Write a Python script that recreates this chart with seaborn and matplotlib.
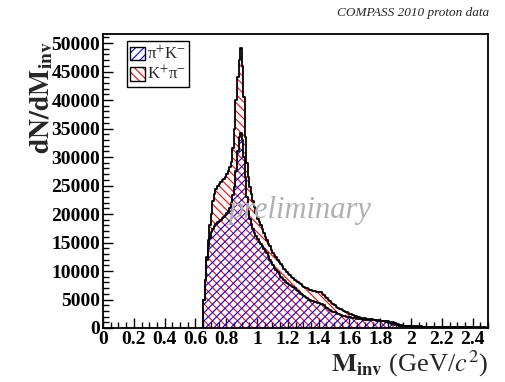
import numpy as np
import pandas as pd
import seaborn as sns
import matplotlib
matplotlib.use("Agg")
import matplotlib.pyplot as plt
from matplotlib.patches import Patch
from matplotlib.legend_handler import HandlerTuple
from matplotlib.ticker import MultipleLocator, FixedLocator, FixedFormatter

# Invariant-mass spectra, 0.01 GeV/c^2 bins starting at 0.64 GeV/c^2
BIN_START = 0.64
BIN_WIDTH = 0.01

# K+ pi- hypothesis (counts per bin)
kpi_counts = [
    0, 5000, 8500, 12500, 15500, 18000, 20000, 22200, 23500, 24300,          # 0.64-0.73
    24900, 25300, 25600, 25900, 26200, 26500, 27000, 27500, 28200, 29200,    # 0.74-0.83
    31500, 35000, 40000, 44000, 47000, 49100, 46000, 40500, 33500, 29000,    # 0.84-0.93
    26500, 24800, 23500, 22300, 21200, 20100, 19200, 18600, 18000, 17300,    # 0.94-1.03
    16600, 16000, 15400, 14800, 14300, 13700, 13200, 12800, 12400, 12000,    # 1.04-1.13
    11600, 11200, 10800, 10400, 10100, 9800, 9500, 9250, 9000, 8700,         # 1.14-1.23
    8450, 8250, 8050, 7850, 7650, 7450, 7250, 7100, 6950, 6800,              # 1.24-1.33
    6700, 6600, 6500, 6450, 6400, 6400, 6350, 6250, 6050, 5800,              # 1.34-1.43
    5500, 5200, 4900, 4650, 4400, 4150, 3950, 3750, 3550, 3400,              # 1.44-1.53
    3300, 3150, 3000, 2850, 2720, 2620, 2520, 2400, 2280, 2170,              # 1.54-1.63
    2070, 1980, 1900, 1840, 1780, 1720, 1670, 1620, 1580, 1540,              # 1.64-1.73
    1500, 1460, 1420, 1390, 1360, 1330, 1300, 1270, 1240, 1210,              # 1.74-1.83
    1180, 1150, 1110, 1060, 990, 900, 780, 660, 560, 500,                    # 1.84-1.93
    460, 420, 400, 380, 360, 340, 320, 310, 300, 290,                        # 1.94-2.03
    285, 270, 265, 250, 245, 245, 235, 225, 225, 215,                        # 2.04-2.13
    210, 210, 200, 195, 195, 185, 180, 180, 170, 170,                        # 2.14-2.23
    165, 160, 160, 150, 150, 145, 140, 140, 135, 130,                        # 2.24-2.33
    130, 125, 125, 120, 115, 115, 110, 110, 105, 100,                        # 2.34-2.43
    100, 95, 95, 90, 90, 85,                                                 # 2.44-2.49
]

# pi+ K- hypothesis (counts per bin)
pik_counts = [
    0, 5000, 8500, 12000, 14200, 15800, 16800, 17300, 17900, 18300,          # 0.64-0.73
    18600, 18800, 19000, 19250, 19500, 19800, 20100, 20500, 21100, 22000,    # 0.74-0.83
    23300, 24800, 27500, 31000, 33500, 34200, 33000, 30000, 26500, 23000,    # 0.84-0.93
    20500, 19200, 18200, 17400, 16700, 16100, 15600, 15100, 14700, 14300,    # 0.94-1.03
    13900, 13500, 13100, 12600, 12000, 11500, 11000, 10600, 10200, 9800,     # 1.04-1.13
    9400, 9000, 8700, 8450, 8200, 7950, 7750, 7550, 7350, 7150,              # 1.14-1.23
    6950, 6750, 6550, 6300, 6050, 5850, 5650, 5450, 5250, 5050,              # 1.24-1.33
    4900, 4750, 4650, 4550, 4480, 4420, 4350, 4280, 4150, 3950,              # 1.34-1.43
    3750, 3550, 3350, 3180, 3020, 2870, 2730, 2600, 2480, 2370,              # 1.44-1.53
    2270, 2180, 2100, 2030, 1970, 1910, 1860, 1810, 1760, 1710,              # 1.54-1.63
    1670, 1630, 1590, 1550, 1510, 1480, 1450, 1420, 1400, 1380,              # 1.64-1.73
    1360, 1340, 1320, 1300, 1280, 1260, 1240, 1210, 1170, 1110,              # 1.74-1.83
    1040, 950, 850, 750, 650, 570, 500, 450, 410, 370,                       # 1.84-1.93
    340, 320, 300, 290, 280, 270, 260, 250, 245, 235,                        # 1.94-2.03
    230, 220, 215, 210, 200, 195, 190, 185, 180, 175,                        # 2.04-2.13
    170, 165, 165, 160, 155, 150, 145, 145, 140, 135,                        # 2.14-2.23
    130, 130, 125, 120, 120, 115, 110, 110, 105, 105,                        # 2.24-2.33
    100, 100, 95, 95, 90, 90, 85, 85, 80, 80,                                # 2.34-2.43
    75, 75, 70, 70, 65, 65,                                                  # 2.44-2.49
]

channel_labels = ["π$^{+}$K$^{-}$", "K$^{+}$π$^{-}$"]
x_ticks = [0, 0.2, 0.4, 0.6, 0.8, 1.0, 1.2, 1.4, 1.6, 1.8, 2.0, 2.2, 2.4]
x_tick_labels = ["0", "0.2", "0.4", "0.6", "0.8", "1", "1.2", "1.4", "1.6",
                 "1.8", "2", "2.2", "2.4"]
y_ticks = [0, 5000, 10000, 15000, 20000, 25000, 30000, 35000, 40000, 45000, 50000]
y_tick_labels = [str(v) for v in y_ticks]

# ---------------------------------------------------------------------------
sns.set_style("ticks")
plt.rcParams["font.family"] = ["Liberation Serif", "DejaVu Serif"]
plt.rcParams["mathtext.fontset"] = "stix"
plt.rcParams["hatch.linewidth"] = 0.8

n_bins = len(kpi_counts)
edges = [round(BIN_START + BIN_WIDTH * i, 2) for i in range(n_bins + 1)]
centers = [0.5 * (edges[i] + edges[i + 1]) for i in range(n_bins)]

spectra = pd.DataFrame({
    "mass": centers + centers,
    "counts": list(kpi_counts) + list(pik_counts),
    "channel": ["Kpi"] * n_bins + ["piK"] * n_bins,
})

fig = plt.figure(figsize=(5.05, 3.82), dpi=100)
ax = fig.add_axes([103 / 505, 54 / 382, 385 / 505, 294 / 382])

hatch_style = {"Kpi": ("#ff0000", "\\\\\\\\"), "piK": ("#0000ff", "////")}

# Hatched areas
for ch in ["Kpi", "piK"]:
    sub = spectra[spectra["channel"] == ch]
    sns.histplot(data=sub, x="mass", weights="counts", bins=edges,
                 element="step", fill=True, alpha=1, linewidth=0, ax=ax)
    coll = ax.collections[-1]
    color, hatch = hatch_style[ch]
    coll.set_facecolor("none")
    coll.set_edgecolor(color)
    coll.set_linewidth(0)
    coll.set_hatch(hatch)

# Black step outlines
for ch in ["Kpi", "piK"]:
    sub = spectra[spectra["channel"] == ch]
    sns.histplot(data=sub, x="mass", weights="counts", bins=edges,
                 element="step", fill=False, color="black", linewidth=1.3, ax=ax)

ax.set_xlim(0, 2.5)
ax.set_ylim(0, 51580)

ax.xaxis.set_major_locator(FixedLocator(x_ticks))
ax.xaxis.set_major_formatter(FixedFormatter(x_tick_labels))
ax.xaxis.set_minor_locator(MultipleLocator(0.05))
ax.yaxis.set_major_locator(FixedLocator(y_ticks))
ax.yaxis.set_major_formatter(FixedFormatter(y_tick_labels))
ax.yaxis.set_minor_locator(MultipleLocator(1000))

ax.tick_params(axis="both", which="both", direction="in", top=False, right=False,
               width=1.0, colors="black")
ax.tick_params(axis="both", which="major", length=7, labelsize=14)
ax.tick_params(axis="both", which="minor", length=4)
ax.tick_params(axis="y", which="major", pad=2)
ax.tick_params(axis="x", which="major", pad=2.5)
for lab in ax.get_xticklabels() + ax.get_yticklabels():
    lab.set_fontweight("bold")

for sp in ax.spines.values():
    sp.set_visible(True)
    sp.set_linewidth(1.3)
    sp.set_color("black")

ax.set_ylabel(r"$\mathbf{dN/dM_{inv}}$", fontsize=20, loc="top")
ax.yaxis.set_label_coords(-0.125, 0.975)
ax.set_xlabel(r"$\mathbf{M_{inv}}$ (GeV/$c^{2}$)", fontsize=19, loc="right")
ax.xaxis.set_label_coords(1.0, -0.07)

# Legend
handles = [
    (Patch(facecolor="white", edgecolor="#0000ff", hatch="////", linewidth=0),
     Patch(facecolor="none", edgecolor="black", linewidth=1.0)),
    (Patch(facecolor="white", edgecolor="#ff0000", hatch="\\\\\\\\", linewidth=0),
     Patch(facecolor="none", edgecolor="black", linewidth=1.0)),
]
leg = ax.legend(handles, channel_labels, handler_map={tuple: HandlerTuple(ndivide=1)},
                loc="upper left", bbox_to_anchor=(0.062, 0.975), fontsize=12,
                handlelength=0.9, handleheight=0.9, handletextpad=0.1,
                labelspacing=0.12, borderpad=0.2, borderaxespad=0,
                frameon=True, fancybox=False, shadow=False)
leg.get_frame().set_edgecolor("black")
leg.get_frame().set_linewidth(1.0)
leg.get_frame().set_facecolor("white")
leg.get_frame().set_alpha(1)

ax.text(0.512, 0.40, "preliminary", transform=ax.transAxes, ha="center", va="center",
        fontsize=22, style="italic", color="#b0b0b0", zorder=5)

fig.text(489 / 505, 1 - 13 / 382, "COMPASS 2010 proton data", ha="right", va="center",
         fontsize=9.5, style="italic")

fig.savefig("out.png", dpi=100, facecolor="white")
